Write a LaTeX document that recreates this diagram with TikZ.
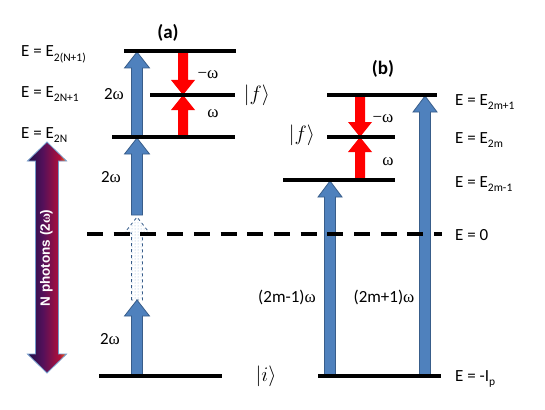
\documentclass[tikz,border=0pt]{standalone}
\usepackage{fontspec}
\setmainfont{Carlito}
\newfontfamily\symf{Liberation Serif}
\newfontfamily\arialf{Liberation Sans}
\usetikzlibrary{calc,patterns}
\definecolor{bfill}{HTML}{4F81BD}
\definecolor{bline}{HTML}{385D8A}
\definecolor{pnavy}{HTML}{1E1048}
\definecolor{pmid}{HTML}{55105A}
\definecolor{pcrim}{HTML}{B0103A}
\definecolor{porange}{HTML}{E8661E}
\pgfdeclarehorizontalshading{photon}{100bp}{color(0bp)=(pnavy); color(25bp)=(pnavy); color(45bp)=(pmid); color(66bp)=(pcrim); color(73bp)=(porange); color(100bp)=(porange)}
\newcommand\om{{\symf ω}}
\newcommand\lsub[1]{\raisebox{-0.28em}{\fontsize{11.5}{13}\selectfont #1}}
% #1 style, #2 from, #3 to, #4 half shaft, #5 half head, #6 head length, #7 direction (1 up, -1 down)
\newcommand\barrow[7]{\path[#1] ($(#2)+(-#4,0)$) -- ($(#3)+(-#4,#7*#6)$) -- ($(#3)+(-#5,#7*#6)$) -- (#3) -- ($(#3)+(#5,#7*#6)$) -- ($(#3)+(#4,#7*#6)$) -- ($(#2)+(#4,0)$) -- cycle;}
\begin{document}
\begin{tikzpicture}[x=1pt,y=-1pt,
  lvl/.style={line width=3.2pt,black},
  zero/.style={line width=3.2pt,black,dash pattern=on 16pt off 10.7pt},
  blue/.style={fill=bfill,draw=bline,line width=0.8pt},
  bluedash/.style={draw=bline,line width=0.8pt,dashed,pattern=dots,pattern color=bfill!60},
  redarr/.style={fill=red,draw=none},
  lab/.style={font=\fontsize{17}{20}\selectfont,anchor=base west,inner sep=0pt},
  om/.style={font=\fontsize{17}{20}\selectfont,inner sep=0pt},
  ket/.style={font=\fontsize{20}{24}\selectfont,inner sep=0pt},
  title/.style={font=\fontsize{19}{22}\selectfont\bfseries,inner sep=0pt}]
\useasboundingbox (0,0) rectangle (545,409);
% level coordinates
\coordinate (a3L) at (124,51);  \coordinate (a3R) at (236,51);
\coordinate (a2L) at (150,95);  \coordinate (a2R) at (235,95);
\coordinate (a1L) at (112,137); \coordinate (a1R) at (235,137);
\coordinate (aiL) at (99,376);  \coordinate (aiR) at (222,376);
\coordinate (zL) at (87,234);   \coordinate (zR) at (442,234);
\coordinate (b3L) at (327,95);  \coordinate (b3R) at (437,95);
\coordinate (b2L) at (327,137); \coordinate (b2R) at (395,137);
\coordinate (b1L) at (283,180); \coordinate (b1R) at (395,180);
\coordinate (biL) at (318,376); \coordinate (biR) at (441,376);
% arrow end coordinates
\coordinate (p0) at (137,376); \coordinate (p1) at (137,300);
\coordinate (p2) at (137,217); \coordinate (p2b) at (137,215);
\coordinate (p3) at (137,138); \coordinate (p3b) at (137,137);
\coordinate (p4) at (137,52);
\coordinate (ra0) at (183,53); \coordinate (ra1) at (183,95); \coordinate (ra2) at (183,137);
\coordinate (rb0) at (360,97); \coordinate (rb1) at (360,137); \coordinate (rb2) at (360,180);
\coordinate (bl0) at (330,376); \coordinate (bl1) at (330,181);
\coordinate (br0) at (425,376); \coordinate (br1) at (425,96);
\coordinate (gTop) at (47,142); \coordinate (gBot) at (47,373);
% photon gradient arrow
\draw[shading=photon,draw=bfill!80,line width=0.8pt]
  ($(gTop)+(0,0)$) -- ($(gTop)+(19.5,19)$) -- ($(gTop)+(11.5,19)$) -- ($(gBot)+(11.5,-19)$)
  -- ($(gBot)+(19.5,-19)$) -- (gBot) -- ($(gBot)+(-19.5,-19)$) -- ($(gBot)+(-11.5,-19)$)
  -- ($(gTop)+(-11.5,19)$) -- ($(gTop)+(-19.5,19)$) -- cycle;
\node[rotate=90,text=white,font=\fontsize{13.5}{16}\selectfont\arialf\bfseries,inner sep=0pt] (nph) at (46.5,258) {N photons (2\om)};
% blue arrows
\barrow{blue}{p0}{p1}{5.5}{12.5}{16}{1}
\barrow{bluedash}{p1}{p2}{5.5}{12.5}{16}{1}
\barrow{blue}{p2b}{p3}{5.5}{12.5}{16}{1}
\barrow{blue}{p3b}{p4}{5.5}{12.5}{16}{1}
\barrow{blue}{bl0}{bl1}{5.5}{12}{16}{1}
\barrow{blue}{br0}{br1}{5.5}{12}{16}{1}
% red arrows
\barrow{redarr}{ra0}{ra1}{5}{12}{15}{-1}
\barrow{redarr}{ra2}{ra1}{5}{12}{15}{1}
\barrow{redarr}{rb0}{rb1}{5}{12}{15}{-1}
\barrow{redarr}{rb2}{rb1}{5}{12}{15}{1}
% levels
\draw[lvl] (a3L) -- (a3R);
\draw[lvl] (a2L) -- (a2R);
\draw[lvl] (a1L) -- (a1R);
\draw[lvl] (aiL) -- (aiR);
\draw[zero] (zL) -- (zR);
\draw[lvl] (b3L) -- (b3R);
\draw[lvl] (b2L) -- (b2R);
\draw[lvl] (b1L) -- (b1R);
\draw[lvl] (biL) -- (biR);
% titles
\node[title] (ta) at (168,33) {(a)};
\node[title] (tb) at (383,69) {(b)};
% energy labels
\node[lab] (l1) at (21,57) {E = E\lsub{2(N+1)}};
\node[lab] (l2) at (21,97) {E = E\lsub{2N+1}};
\node[lab] (l3) at (21,138) {E = E\lsub{2N}};
\node[lab] (r1) at (455,105) {E = E\lsub{2m+1}};
\node[lab] (r2) at (455,143) {E = E\lsub{2m}};
\node[lab] (r3) at (455,187) {E = E\lsub{2m-1}};
\node[lab] (r4) at (455,240) {E = 0};
\node[lab] (r5) at (455,381) {E = -I\lsub{p}};
% photon labels
\node[om] (w1) at (114,94) {2\om};
\node[om] (w2) at (111,177) {2\om};
\node[om] (w3) at (110,339) {2\om};
\node[om] (w4) at (208,75) {{\symf −}\om};
\node[om] (w5) at (213,114) {\om};
\node[om] (w6) at (383,119) {{\symf −}\om};
\node[om] (w7) at (388,162) {\om};
\node[om] (w8) at (287,297) {(2m-1)\om};
\node[om] (w9) at (384,297) {(2m+1)\om};
% kets
\node[ket] (fa) at (257,95) {$\bigl|f\bigr\rangle$};
\node[ket] (fb) at (302,135) {$\bigl|f\bigr\rangle$};
\node[ket] (ki) at (266,376) {$\bigl|i\bigr\rangle$};
\end{tikzpicture}
\end{document}
